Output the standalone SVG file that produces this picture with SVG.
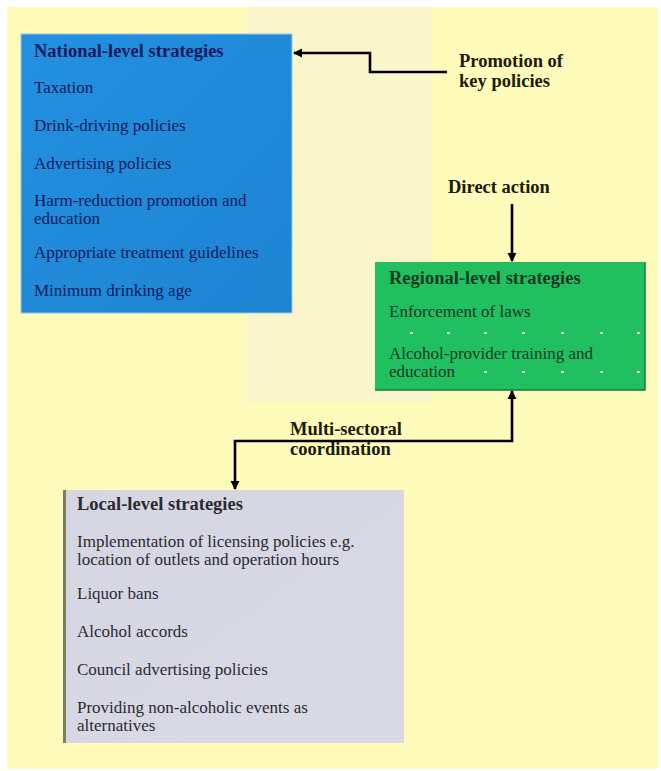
<svg xmlns="http://www.w3.org/2000/svg" width="661" height="771" viewBox="0 0 661 771">
<defs>
<style>
.t{font-family:"Liberation Serif","Times New Roman",serif;font-size:17px}
.b{font-family:"Liberation Serif","Times New Roman",serif;font-size:18.5px;font-weight:bold}
.nav{fill:#0c1a5c}
.grn{fill:#123a1e}
.lab{fill:#1c1a08}
.loc{fill:#2a2a30}
.conn{fill:none;stroke:#000;stroke-width:2.6}
.dot{fill:#ffffff;opacity:0.75}
</style>
<marker id="ah" viewBox="0 0 10 10" refX="9" refY="5" markerWidth="3.6" markerHeight="3.6" orient="auto-start-reverse" markerUnits="strokeWidth">
<path d="M0,0 L10,5 L0,10 z" fill="#000"/>
</marker>
<linearGradient id="gb" x1="0" y1="0" x2="1" y2="1">
<stop offset="0" stop-color="#2390e0"/>
<stop offset="1" stop-color="#1d84d2"/>
</linearGradient>
<linearGradient id="gl" x1="0" y1="0" x2="1" y2="1">
<stop offset="0" stop-color="#d6d6e2"/>
<stop offset="1" stop-color="#dadae6"/>
</linearGradient>
</defs>
<rect x="0" y="0" width="661" height="771" fill="#ffffff"/>
<rect x="7" y="7" width="651" height="762" fill="#fefbbb"/>
<rect x="247" y="7" width="185" height="395" fill="#faf5cb"/>

<g id="national">
<rect x="21" y="34" width="271" height="279" fill="url(#gb)" stroke="#9cc6e6" stroke-width="1"/>
<text class="b nav" x="34" y="57">National-level strategies</text>
<text class="t nav" x="34" y="93">Taxation</text>
<text class="t nav" x="34" y="131">Drink-driving policies</text>
<text class="t nav" x="34" y="169">Advertising policies</text>
<text class="t nav" x="34" y="206">Harm-reduction promotion and</text>
<text class="t nav" x="34" y="224">education</text>
<text class="t nav" x="34" y="258">Appropriate treatment guidelines</text>
<text class="t nav" x="34" y="296">Minimum drinking age</text>
</g>

<g id="regional">
<rect x="375" y="262" width="270" height="128" fill="#20c061"/>
<path d="M375,390 H645 V262" fill="none" stroke="#157a3c" stroke-width="1.5"/>
<g class="dots">
<rect class="dot" x="410" y="332" width="3" height="2"/>
<rect class="dot" x="447" y="332" width="3" height="2"/>
<rect class="dot" x="484" y="332" width="3" height="2"/>
<rect class="dot" x="522" y="332" width="3" height="2"/>
<rect class="dot" x="561" y="332" width="3" height="2"/>
<rect class="dot" x="600" y="332" width="3" height="2"/>
<rect class="dot" x="637" y="332" width="3" height="2"/>
<rect class="dot" x="484" y="371" width="3" height="2"/>
<rect class="dot" x="522" y="371" width="3" height="2"/>
<rect class="dot" x="561" y="371" width="3" height="2"/>
<rect class="dot" x="600" y="371" width="3" height="2"/>
<rect class="dot" x="637" y="371" width="3" height="2"/>
</g>
<text class="b grn" x="389" y="284" font-weight="normal" style="font-weight:600">Regional-level strategies</text>
<text class="t grn" x="389" y="317">Enforcement of laws</text>
<text class="t grn" x="389" y="359">Alcohol-provider training and</text>
<text class="t grn" x="389" y="377">education</text>
</g>

<g id="local">
<rect x="63" y="490" width="341" height="253" fill="url(#gl)"/>
<rect x="63" y="490" width="3" height="253" fill="#7e7c62"/>
<text class="b loc" x="77" y="510">Local-level strategies</text>
<text class="t loc" x="77" y="547">Implementation of licensing policies e.g.</text>
<text class="t loc" x="77" y="565">location of outlets and operation hours</text>
<text class="t loc" x="77" y="599">Liquor bans</text>
<text class="t loc" x="77" y="637">Alcohol accords</text>
<text class="t loc" x="77" y="675">Council advertising policies</text>
<text class="t loc" x="77" y="713">Providing non-alcoholic events as</text>
<text class="t loc" x="77" y="731">alternatives</text>
</g>

<g id="labels">
<text class="b lab" x="459" y="67">Promotion of</text>
<text class="b lab" x="459" y="87">key policies</text>
<text class="b lab" x="448" y="193">Direct action</text>
<text class="b lab" x="290" y="435">Multi-sectoral</text>
<text class="b lab" x="290" y="455">coordination</text>
</g>

<g id="connectors">
<path class="conn" d="M447,72 H370 V53 H294" marker-end="url(#ah)"/>
<path class="conn" d="M512,204 V261" marker-end="url(#ah)"/>
<path class="conn" d="M512,391 V441 H235 V489" marker-start="url(#ah)" marker-end="url(#ah)"/>
</g>
</svg>
